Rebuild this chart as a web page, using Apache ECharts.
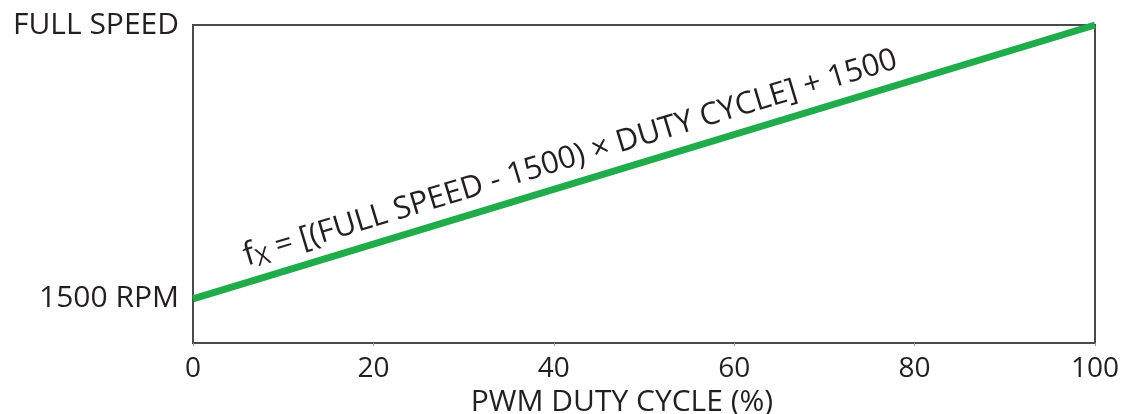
<!DOCTYPE html>
<html><head><meta charset="utf-8">
<script src="https://cdn.jsdelivr.net/npm/echarts@6/dist/echarts.min.js"></script>
<style>html,body{margin:0;padding:0;background:#fff}#c{width:1123px;height:414px}</style>
</head><body><div id="c"></div>
<script>
// ---- data ----
const dutyCycle = [0, 100];            // PWM duty cycle (%)
const speedRpm = [1500, 10800];        // fan speed (RPM); 10800 ~ "FULL SPEED"
const xTickInterval = 20;
const yTickValues = [1500, 10800];
const yTickLabels = ['1500 RPM', 'FULL SPEED'];
const xTitle = 'PWM DUTY CYCLE (%)';
const formulaMain = 'f';
const formulaSub = 'X';
const formulaRest = ' = [(FULL SPEED - 1500) × DUTY CYCLE] + 1500';
const formulaAnchorX = 6.5;            // duty cycle where the formula starts

const TXT = '#231f20', AX = '#4a4a4a', GREEN = '#20ac4b', FONT = '"Open Sans", "Noto Sans", sans-serif';

const chart = echarts.init(document.getElementById('c'), null, {renderer: 'canvas'});
chart.setOption({
  animation: false,
  backgroundColor: '#ffffff',
  grid: {left: 193, right: 28, top: 25, bottom: 71, show: true, borderColor: AX, borderWidth: 2,
         containLabel: false, outerBoundsMode: 'none'},
  xAxis: {
    type: 'value', min: 0, max: 100, interval: xTickInterval,
    axisLine: {show: true, lineStyle: {color: AX, width: 2}},
    axisTick: {show: true, length: 3, lineStyle: {color: '#999'}},
    splitLine: {show: false},
    axisLabel: {color: TXT, fontFamily: FONT, fontSize: 28, margin: 12},
    name: xTitle, nameLocation: 'middle', nameGap: 35,
    nameTextStyle: {color: TXT, fontFamily: FONT, fontSize: 30, padding: [0, 44, 0, 0]}
  },
  yAxis: {
    type: 'value', min: 0, max: speedRpm[1],
    axisLine: {show: true, lineStyle: {color: AX, width: 2}},
    axisTick: {show: false},
    splitLine: {show: false},
    axisLabel: {
      color: TXT, fontFamily: FONT, fontSize: 30, margin: 14,
      customValues: yTickValues,
      formatter: v => yTickLabels[yTickValues.indexOf(v)] || ''
    }
  },
  series: [{
    type: 'line', data: dutyCycle.map((d, i) => [d, speedRpm[i]]),
    symbol: 'none', lineStyle: {color: GREEN, width: 7}, z: 3
  }]
});

// formula text along the line (position/angle derived from the axes)
const p0 = chart.convertToPixel({gridIndex: 0}, [dutyCycle[0], speedRpm[0]]);
const p1 = chart.convertToPixel({gridIndex: 0}, [dutyCycle[1], speedRpm[1]]);
const ang = Math.atan2(p0[1] - p1[1], p1[0] - p0[0]);
const anchorY = speedRpm[0] + (speedRpm[1] - speedRpm[0]) * (formulaAnchorX - dutyCycle[0]) / (dutyCycle[1] - dutyCycle[0]);
const pa = chart.convertToPixel({gridIndex: 0}, [formulaAnchorX, anchorY]);
chart.setOption({
  graphic: [{
    type: 'group', x: pa[0], y: pa[1], rotation: ang,
    children: [{
      type: 'text', x: 0, y: -25,
      style: {
        text: '{f|' + formulaMain + '}{s|' + formulaSub + '}{t|' + formulaRest + '}',
        align: 'left', verticalAlign: 'middle',
        rich: {
          f: {fontFamily: FONT, fontSize: 32, fill: TXT, color: TXT},
          s: {fontFamily: FONT, fontSize: 24, fill: TXT, color: TXT, padding: [12, 0, 0, 0]},
          t: {fontFamily: FONT, fontSize: 31, fill: TXT, color: TXT}
        }
      }
    }]
  }]
});
</script></body></html>
